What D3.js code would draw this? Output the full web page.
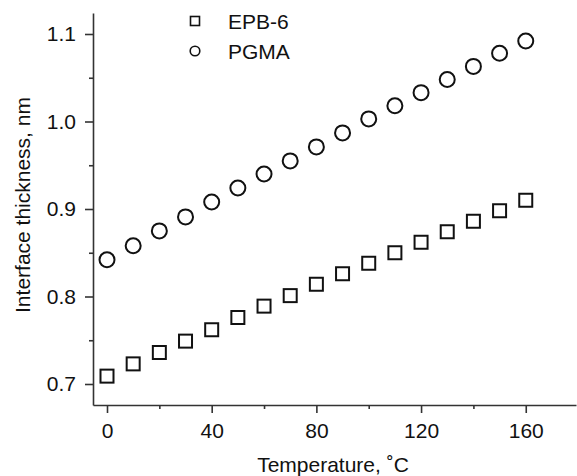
<!DOCTYPE html>
<html>
<head>
<meta charset="utf-8">
<script src="https://cdn.jsdelivr.net/npm/d3@7.9.0/dist/d3.min.js"></script>
<style>
  body { margin: 0; background: #fff; }
  text { font-family: Arial, "Liberation Sans", sans-serif; fill: #111; }
</style>
</head>
<body>
<svg id="chart"></svg>
<script>
// data
const temps = [0, 10, 20, 30, 40, 50, 60, 70, 80, 90, 100, 110, 120, 130, 140, 150, 160];
const epb6 = [0.709, 0.723, 0.736, 0.749, 0.762, 0.776, 0.789, 0.801, 0.814, 0.826, 0.838, 0.850, 0.862, 0.874, 0.886, 0.898, 0.910];
const pgma = [0.842, 0.858, 0.875, 0.891, 0.908, 0.924, 0.940, 0.955, 0.971, 0.987, 1.003, 1.018, 1.033, 1.048, 1.063, 1.078, 1.092];
const xTicks = [0, 40, 80, 120, 160];
const xMinor = [20, 60, 100, 140];
const yTicks = [0.7, 0.8, 0.9, 1.0, 1.1];
const yMinor = [0.75, 0.85, 0.95, 1.05];
const seriesNames = ["EPB-6", "PGMA"];

const svgWidth = 577;
const svgHeight = 476;
const fontSize = "21px";

const svg = d3.select("#chart")
    .attr("width", svgWidth)
    .attr("height", svgHeight);

let xScale = d3.scaleLinear()
    .domain([-5.35, 179.2])
    .range([93, 576]);

let yScale = d3.scaleLinear()
    .domain([0.676, 1.124])
    .range([405, 13]);

const axisColor = "#333";

// bottom axis
svg.append("g")
    .attr("transform", `translate(0, ${yScale.range()[0]})`)
    .call(d3.axisBottom(xScale).tickValues(xTicks).tickSize(8).tickPadding(10).tickSizeOuter(0).tickFormat(d3.format("d")));
svg.append("g")
    .attr("transform", `translate(0, ${yScale.range()[0]})`)
    .call(d3.axisBottom(xScale).tickValues(xMinor).tickSize(4).tickFormat(""))
    .call(g => g.select(".domain").remove());

// left axis
svg.append("g")
    .attr("transform", `translate(${xScale.range()[0]}, 0)`)
    .call(d3.axisLeft(yScale).tickValues(yTicks).tickSize(8).tickPadding(9).tickSizeOuter(0).tickFormat(d3.format(".1f")));
svg.append("g")
    .attr("transform", `translate(${xScale.range()[0]}, 0)`)
    .call(d3.axisLeft(yScale).tickValues(yMinor).tickSize(4).tickFormat(""))
    .call(g => g.select(".domain").remove());

svg.selectAll(".domain, .tick line")
    .attr("stroke", axisColor)
    .attr("stroke-width", 1.6);
svg.selectAll(".tick text")
    .style("font-family", "Arial, 'Liberation Sans', sans-serif")
    .style("font-size", fontSize)
    .attr("fill", "#111");

// axis titles
svg.append("text")
    .attr("x", 333)
    .attr("y", 472)
    .attr("text-anchor", "middle")
    .style("font-size", fontSize)
    .text("Temperature, \u02DAC");

svg.append("text")
    .attr("transform", "rotate(-90)")
    .attr("x", -205)
    .attr("y", 30)
    .attr("text-anchor", "middle")
    .style("font-size", fontSize)
    .text("Interface thickness, nm");

// markers
const sqSide = 13;
svg.selectAll(".sq")
    .data(temps)
    .enter()
    .append("rect")
    .attr("class", "sq")
    .attr("x", (d) => xScale(d) - sqSide / 2)
    .attr("y", (d, i) => yScale(epb6[i]) - sqSide / 2)
    .attr("width", sqSide)
    .attr("height", sqSide)
    .attr("fill", "white")
    .attr("stroke", "#111")
    .attr("stroke-width", 2);

svg.selectAll(".circ")
    .data(temps)
    .enter()
    .append("circle")
    .attr("class", "circ")
    .attr("cx", (d) => xScale(d))
    .attr("cy", (d, i) => yScale(pgma[i]))
    .attr("r", 7.5)
    .attr("fill", "white")
    .attr("stroke", "#111")
    .attr("stroke-width", 2);

// legend
const legend = svg.append("g")
    .attr("transform", "translate(195, 21)");

legend.append("rect")
    .attr("x", -4.5)
    .attr("y", -4.5)
    .attr("width", 9)
    .attr("height", 9)
    .attr("fill", "white")
    .attr("stroke", "#111")
    .attr("stroke-width", 1.6);

legend.append("circle")
    .attr("cx", 0)
    .attr("cy", 30)
    .attr("r", 4.8)
    .attr("fill", "white")
    .attr("stroke", "#111")
    .attr("stroke-width", 1.6);

legend.selectAll(".lbl")
    .data(seriesNames)
    .enter()
    .append("text")
    .attr("class", "lbl")
    .attr("x", 33)
    .attr("y", (d, i) => i * 30 + 8)
    .style("font-size", fontSize)
    .text((d) => d);
</script>
</body>
</html>
